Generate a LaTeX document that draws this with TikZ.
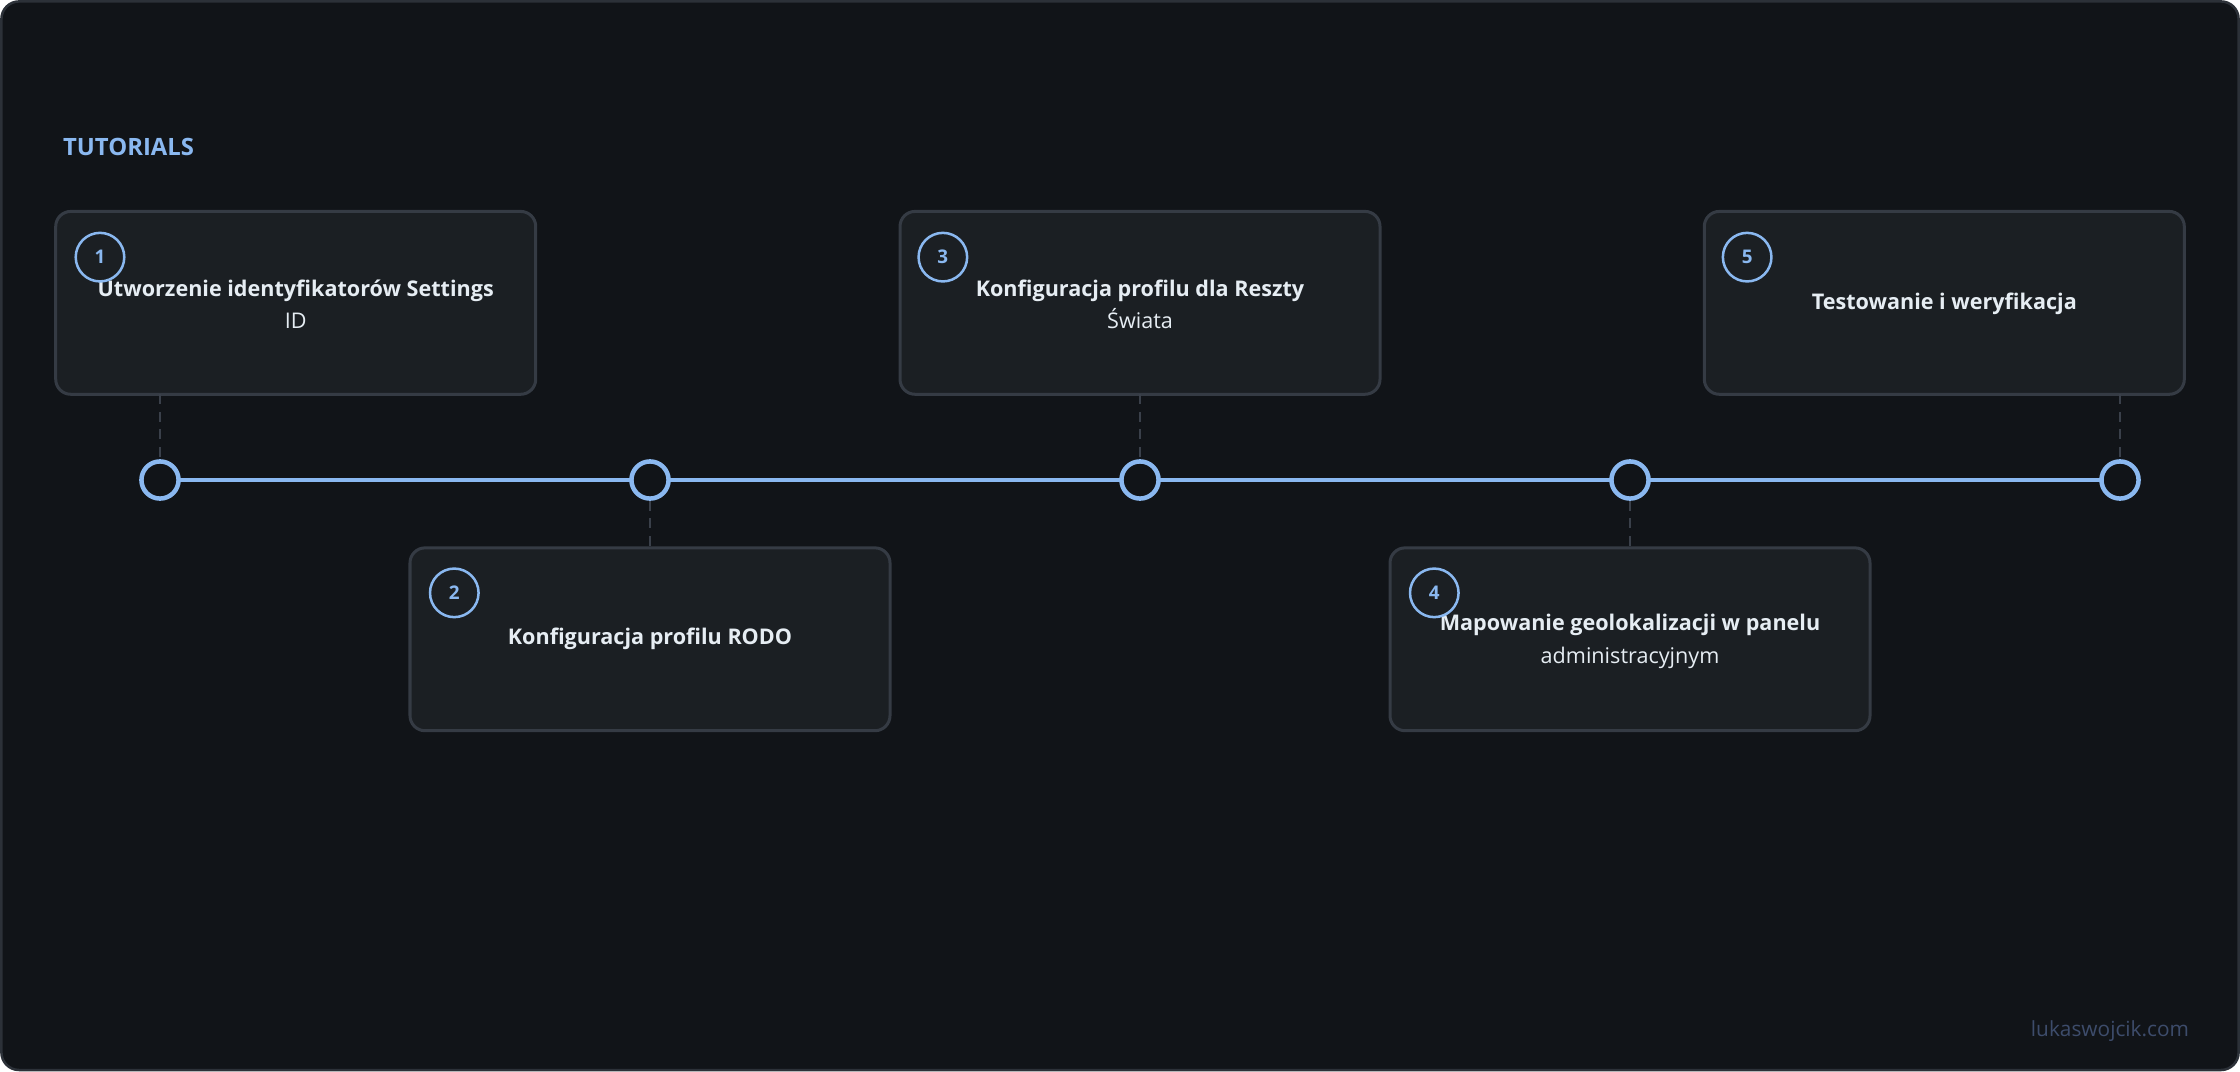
\documentclass[tikz,border=0pt]{standalone}
\usepackage{fontspec}
\setmainfont{Open Sans}
\begin{document}
\definecolor{bg}{HTML}{111418}
\definecolor{edge}{HTML}{2C3138}
\definecolor{card}{HTML}{1B1F23}
\definecolor{cardedge}{HTML}{353B44}
\definecolor{accent}{HTML}{8AB8F0}
\definecolor{txt}{HTML}{E6EDF3}
\definecolor{dash}{HTML}{3A404A}
\definecolor{wm}{HTML}{3D4C6B}
\begin{tikzpicture}[x=0.02cm,y=-0.02cm,
  card/.style={draw=cardedge,line width=1.2pt,fill=card,rounded corners=6pt,minimum width=336*0.02cm,minimum height=128*0.02cm},
  dot/.style={circle,draw=accent,line width=1.8pt,fill=bg,minimum size=26*0.02cm,inner sep=0},
  num/.style={circle,draw=accent,line width=1pt,fill=card,minimum size=34*0.02cm,inner sep=0,text=accent,font=\bfseries\fontsize{7.5}{9}\selectfont},
  ttl/.style={text=txt,align=center,font=\fontsize{8.6}{13}\selectfont},
  dsh/.style={draw=dash,line width=0.9pt,dash pattern=on 4pt off 3pt}]
\draw[draw=edge,fill=bg,line width=1pt,rounded corners=7pt] (1,1) rectangle (1567,749);
\useasboundingbox (0,0) rectangle (1568,750);
\node[anchor=west,text=accent,font=\bfseries\fontsize{9.5}{11}\selectfont] (h) at (38,103) {TUTORIALS};
\node[card] (c1) at (207,212) {};
\node[card] (c2) at (455,447.5) {};
\node[card] (c3) at (798,212) {};
\node[card] (c4) at (1141,447.5) {};
\node[card] (c5) at (1361,212) {};
\foreach \i/\x in {1/112,2/455,3/798,4/1141,5/1484} \coordinate (p\i) at (\x,336);
\draw[accent,line width=1.8pt] (p1) -- (p5);
\foreach \i/\x in {1/112,2/455,3/798,4/1141,5/1484} \node[dot] (d\i) at (\x,336) {};
\coordinate (t1) at (112,276); \coordinate (t3) at (798,276); \coordinate (t5) at (1484,276);
\coordinate (b2) at (455,383); \coordinate (b4) at (1141,383);
\draw[dsh] (t1) -- (d1); \draw[dsh] (t3) -- (d3); \draw[dsh] (t5) -- (d5);
\draw[dsh] (d2) -- (b2); \draw[dsh] (d4) -- (b4);
\node[ttl] (l1) at (207,213) {\textbf{Utworzenie identyfikatorów Settings}\\ID};
\node[ttl] (l2) at (455,447) {\textbf{Konfiguracja profilu RODO}};
\node[ttl] (l3) at (798,213) {\textbf{Konfiguracja profilu dla Reszty}\\Świata};
\node[ttl] (l4) at (1141,449) {\textbf{Mapowanie geolokalizacji w panelu}\\administracyjnym};
\node[ttl] (l5) at (1361,213) {\textbf{Testowanie i weryfikacja}};
\node[num] (n1) at (70,180) {1};
\node[num] (n2) at (318,415) {2};
\node[num] (n3) at (660,180) {3};
\node[num] (n4) at (1004,415) {4};
\node[num] (n5) at (1223,180) {5};
\node[text=wm,font=\fontsize{8.3}{10}\selectfont] (w) at (1477,722) {lukaswojcik.com};
\end{tikzpicture}
\end{document}
